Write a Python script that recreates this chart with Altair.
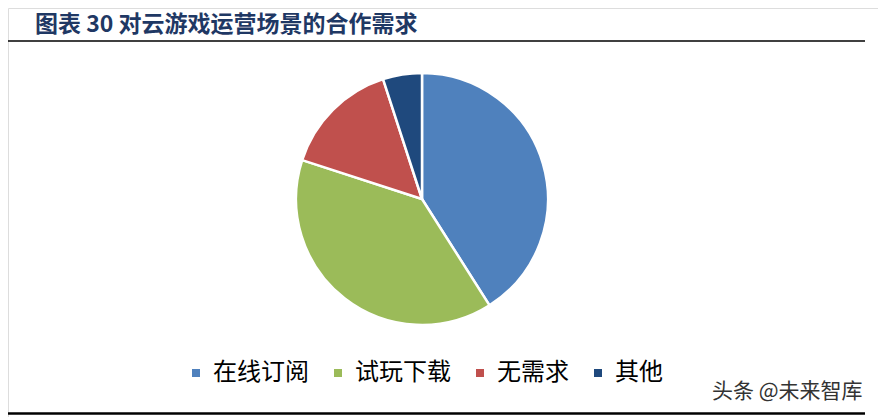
import altair as alt
import pandas as pd

categories = ["在线订阅", "试玩下载", "无需求", "其他"]
shares = [41, 39, 15, 5]
colors = ["#4F81BD", "#9BBB59", "#C0504D", "#1F497D"]
title_text = "图表 30 对云游戏运营场景的合作需求"
watermark = "头条 @未来智库"

W, H = 870, 409
FONT = "Noto Sans CJK SC"

df = pd.DataFrame({"cat": categories, "val": shares, "idx": list(range(len(categories)))})

pie = alt.Chart(df).mark_arc(outerRadius=126, stroke="white", strokeWidth=2.5).encode(
    theta=alt.Theta("val:Q", stack=True),
    order=alt.Order("idx:Q"),
    color=alt.Color(
        "cat:N",
        scale=alt.Scale(domain=categories, range=colors),
        legend=alt.Legend(
            title=None,
            orient="none",
            legendX=176,
            legendY=353,
            direction="horizontal",
            symbolType="square",
            symbolSize=64,
            symbolStrokeWidth=0,
            labelFontSize=24,
            labelFont=FONT,
            labelColor="#000000",
            labelOffset=5,
            columnPadding=17,
            padding=0,
        ),
    ),
    x=alt.value(414),
    y=alt.value(191),
)

title = alt.Chart(pd.DataFrame({"t": [title_text]})).mark_text(
    align="left", baseline="middle", fontSize=23, fontWeight="bold", font=FONT, color="#1F3864"
).encode(text="t:N", x=alt.value(27), y=alt.value(17))

wm = alt.Chart(pd.DataFrame({"t": [watermark]})).mark_text(
    align="left", baseline="middle", fontSize=21, font=FONT, color="#333333"
).encode(text="t:N", x=alt.value(704), y=alt.value(384))

top_line = alt.Chart(pd.DataFrame({"a": [0]})).mark_rule(color="#000000", strokeWidth=1.5).encode(
    x=alt.value(0), x2=alt.value(857), y=alt.value(33)
)
bottom_line = alt.Chart(pd.DataFrame({"a": [0]})).mark_rule(color="#000000", strokeWidth=2.5).encode(
    x=alt.value(0), x2=alt.value(857), y=alt.value(405.5)
)

chart = alt.layer(pie, title, wm, top_line, bottom_line).properties(
    width=W, height=H, autosize=alt.AutoSizeParams(type="none"), padding=0
).configure_view(stroke=None).configure(background="white")

chart.save("out.html", embed_options={"renderer": "svg", "actions": False})
